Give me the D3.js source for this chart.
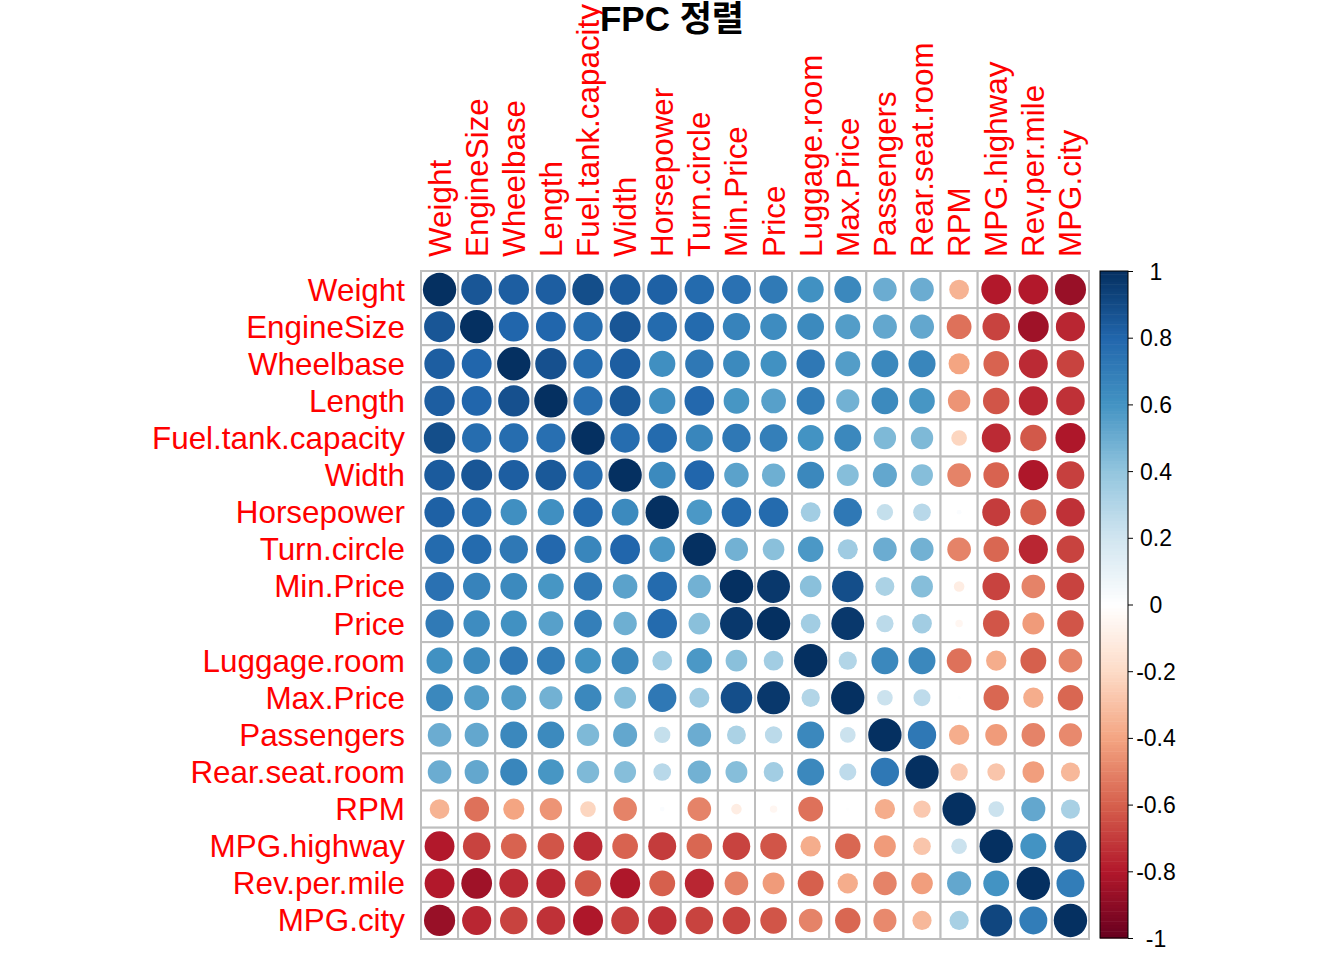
<!DOCTYPE html>
<html><head><meta charset="utf-8">
<script src="https://cdn.jsdelivr.net/npm/d3@7"></script>
<style>body{margin:0;background:#fff;} svg{display:block;}</style>
</head><body>
<svg id="chart" width="1344" height="960"></svg>
<script>
// ---- data ----
const variables = ["Weight","EngineSize","Wheelbase","Length","Fuel.tank.capacity","Width","Horsepower","Turn.circle","Min.Price","Price","Luggage.room","Max.Price","Passengers","Rear.seat.room","RPM","MPG.highway","Rev.per.mile","MPG.city"];
// upper-triangle correlations: each array lists the values for the columns to the right of the diagonal
const upperWeight        = [0.86,0.83,0.83,0.89,0.84,0.82,0.78,0.75,0.71,0.61,0.65,0.50,0.50,-0.35,-0.80,-0.80,-0.87];
const upperEngineSize    = [0.80,0.80,0.77,0.86,0.78,0.78,0.67,0.63,0.64,0.56,0.52,0.52,-0.55,-0.68,-0.85,-0.76];
const upperWheelbase     = [0.88,0.77,0.83,0.62,0.72,0.64,0.61,0.72,0.56,0.65,0.66,-0.40,-0.59,-0.75,-0.68];
const upperLength        = [0.76,0.85,0.62,0.79,0.59,0.55,0.70,0.48,0.64,0.59,-0.45,-0.63,-0.76,-0.73];
const upperFuelTank      = [0.77,0.78,0.66,0.72,0.69,0.60,0.65,0.45,0.45,-0.22,-0.75,-0.62,-0.81];
const upperWidth         = [0.64,0.80,0.54,0.49,0.65,0.43,0.52,0.43,-0.50,-0.59,-0.81,-0.69];
const upperHorsepower    = [0.58,0.78,0.78,0.35,0.72,0.24,0.28,0.02,-0.70,-0.60,-0.73];
const upperTurnCircle    = [0.48,0.42,0.58,0.36,0.50,0.48,-0.50,-0.58,-0.76,-0.68];
const upperMinPrice      = [0.97,0.42,0.89,0.32,0.43,-0.10,-0.68,-0.50,-0.68];
const upperPrice         = [0.35,0.97,0.27,0.35,-0.05,-0.63,-0.43,-0.63];
const upperLuggageRoom   = [0.30,0.65,0.65,-0.55,-0.37,-0.60,-0.50];
const upperMaxPrice      = [0.22,0.26,0.01,-0.58,-0.37,-0.58];
const upperPassengers    = [0.72,-0.37,-0.43,-0.50,-0.48];
const upperRearSeatRoom  = [-0.27,-0.28,-0.42,-0.33];
const upperRPM           = [0.22,0.52,0.33];
const upperMPGhighway    = [0.60,0.92];
const upperRevPerMile    = [0.70];
const legendTicks = [-1,-0.8,-0.6,-0.4,-0.2,0,0.2,0.4,0.6,0.8,1];
const legendTickLabels = ["-1","-0.8","-0.6","-0.4","-0.2","0","0.2","0.4","0.6","0.8","1"];
const paletteStops = ["#67001F","#B2182B","#D6604D","#F4A582","#FDDBC7","#FFFFFF","#D1E5F0","#92C5DE","#4393C3","#2166AC","#053061"];
const titleText = "FPC 정렬";

// ---- build matrix ----
const uppers = [upperWeight,upperEngineSize,upperWheelbase,upperLength,upperFuelTank,upperWidth,upperHorsepower,upperTurnCircle,upperMinPrice,upperPrice,upperLuggageRoom,upperMaxPrice,upperPassengers,upperRearSeatRoom,upperRPM,upperMPGhighway,upperRevPerMile,[]];
const n = variables.length;
const M = variables.map(() => new Array(n).fill(0));
for (let i = 0; i < n; i++) {
  M[i][i] = 1;
  uppers[i].forEach((v, k) => { const j = i + k + 1; M[i][j] = v; M[j][i] = v; });
}
const cells = [];
for (let i = 0; i < n; i++) for (let j = 0; j < n; j++) cells.push({row: variables[i], col: variables[j], value: M[i][j]});

// ---- drawing ----
const svg = d3.select("#chart");
const font = "'Liberation Sans', Arial, sans-serif";
const gx0 = 421, gy0 = 271, gx1 = 1089, gy1 = 939;
const x = d3.scaleBand().domain(variables).range([gx0, gx1]);
const y = d3.scaleBand().domain(variables).range([gy0, gy1]);
const bw = x.bandwidth();
const color = d3.scaleLinear().domain(legendTicks).range(paletteStops).interpolate(d3.interpolateRgb);
const rScale = d3.scaleSqrt().domain([0, 1]).range([0, 0.45 * bw]);

// grid
svg.append("g").selectAll("rect").data(cells).join("rect")
  .attr("x", d => x(d.col)).attr("y", d => y(d.row))
  .attr("width", bw).attr("height", bw)
  .attr("fill", "#fff").attr("stroke", "#BEBEBE").attr("stroke-width", 2);

// circles
svg.append("g").selectAll("circle").data(cells).join("circle")
  .attr("cx", d => x(d.col) + bw / 2).attr("cy", d => y(d.row) + bw / 2)
  .attr("r", d => rScale(Math.abs(d.value)))
  .attr("fill", d => color(d.value));

// row labels
svg.append("g").selectAll("text").data(variables).join("text")
  .attr("x", gx0 - 16).attr("y", d => y(d) + bw / 2).attr("dy", "0.35em")
  .attr("text-anchor", "end").attr("fill", "red")
  .style("font-family", font).style("font-size", "31.4px").text(d => d);

// column labels
svg.append("g").selectAll("text").data(variables).join("text")
  .attr("transform", d => `translate(${x(d) + bw / 2},${gy0 - 14}) rotate(-90)`)
  .attr("dy", "0.35em").attr("text-anchor", "start").attr("fill", "red")
  .style("font-family", font).style("font-size", "31.4px").text(d => d);

// colour legend
const lx0 = 1100, lx1 = 1128;
const ly = d3.scaleLinear().domain([-1, 1]).range([938, 271]);
const steps = d3.range(200).map(i => -1 + (i + 0.5) * 2 / 200);
svg.append("g").selectAll("rect").data(steps).join("rect")
  .attr("x", lx0).attr("width", lx1 - lx0)
  .attr("y", d => ly(d + 1 / 200)).attr("height", Math.abs(ly(0) - ly(2 / 200)) + 0.5)
  .attr("fill", d => color(d));
svg.append("rect").attr("x", lx0).attr("y", ly(1)).attr("width", lx1 - lx0).attr("height", ly(-1) - ly(1))
  .attr("fill", "none").attr("stroke", "#000").attr("stroke-width", 1);
const axis = d3.axisRight(ly).tickValues(legendTicks).tickSize(5)
  .tickFormat((d, i) => legendTickLabels[i]);
const ag = svg.append("g").attr("transform", `translate(${lx1},0)`).call(axis);
ag.select(".domain").remove();
ag.selectAll(".tick line").attr("stroke", "#000");
ag.selectAll(".tick text").attr("x", 28).attr("text-anchor", "middle").attr("dy", "0.35em")
  .attr("fill", "#000").style("font-family", font).style("font-size", "23px");

// title
svg.append("text").attr("x", 672).attr("y", 31).attr("text-anchor", "middle")
  .style("font-family", "'Liberation Sans', 'Noto Sans CJK KR', sans-serif")
  .style("font-size", "35px").style("font-weight", "bold").attr("fill", "#000").text(titleText);
</script>
</body></html>
